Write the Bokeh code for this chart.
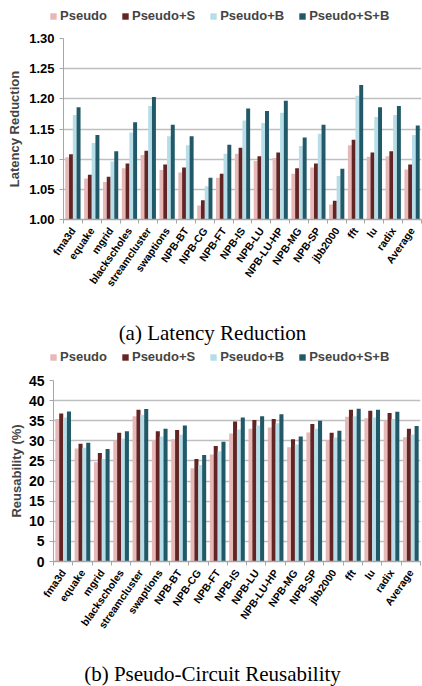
import math
from bokeh.plotting import figure
from bokeh.layouts import column, row
from bokeh.models import (ColumnDataSource, FixedTicker, Legend, LegendItem, Label,
                          Range1d, NumeralTickFormatter)
from bokeh.embed import file_html
from bokeh.resources import INLINE

benchmarks = ["fma3d", "equake", "mgrid", "blackscholes", "streamcluster", "swaptions",
              "NPB-BT", "NPB-CG", "NPB-FT", "NPB-IS", "NPB-LU", "NPB-LU-HP", "NPB-MG",
              "NPB-SP", "jbb2000", "fft", "lu", "radix", "Average"]
series = ["Pseudo", "Pseudo+S", "Pseudo+B", "Pseudo+S+B"]
colors = ["#E6B9B8", "#632523", "#B7DEE8", "#215968"]

# (a) Latency Reduction
lat_pseudo = [1.103, 1.068, 1.062, 1.085, 1.107, 1.082, 1.078, 1.023, 1.069, 1.109,
              1.097, 1.102, 1.076, 1.086, 1.025, 1.123, 1.104, 1.105, 1.083]
lat_s      = [1.108, 1.074, 1.071, 1.093, 1.114, 1.091, 1.086, 1.032, 1.076, 1.119,
              1.105, 1.111, 1.085, 1.093, 1.031, 1.132, 1.111, 1.113, 1.091]
lat_b      = [1.173, 1.127, 1.096, 1.144, 1.188, 1.138, 1.123, 1.055, 1.109, 1.164,
              1.160, 1.177, 1.122, 1.142, 1.072, 1.205, 1.170, 1.173, 1.140]
lat_sb     = [1.186, 1.140, 1.113, 1.161, 1.203, 1.157, 1.138, 1.069, 1.124, 1.184,
              1.180, 1.197, 1.136, 1.157, 1.084, 1.223, 1.186, 1.188, 1.156]

# (b) Pseudo-Circuit Reusability (%)
reu_pseudo = [35.4, 28.1, 24.7, 30.1, 36.1, 30.2, 30.4, 23.2, 26.6, 31.8,
              33.0, 33.3, 28.4, 32.1, 30.2, 36.0, 35.6, 35.0, 30.9]
reu_s      = [36.8, 29.3, 27.0, 32.0, 37.7, 32.4, 32.7, 25.5, 28.7, 34.8,
              35.2, 35.4, 30.4, 34.2, 32.0, 37.7, 37.5, 36.9, 33.0]
reu_b      = [35.8, 28.3, 25.5, 30.5, 36.5, 31.1, 31.5, 24.0, 27.4, 32.8,
              33.8, 34.4, 29.1, 33.0, 30.8, 36.1, 35.8, 35.4, 31.6]
reu_sb     = [37.3, 29.5, 28.0, 32.4, 37.9, 33.0, 33.8, 26.5, 29.8, 35.8,
              36.1, 36.6, 31.1, 35.0, 32.5, 38.0, 37.7, 37.2, 33.7]

lat_ticks = [1.00, 1.05, 1.10, 1.15, 1.20, 1.25, 1.30]
reu_ticks = [0, 5, 10, 15, 20, 25, 30, 35, 40, 45]
captions = ["(a) Latency Reduction", "(b) Pseudo-Circuit Reusability"]

offsets = [-0.3, -0.1, 0.1, 0.3]
GRID = "#BFBFBF"
AXIS = "#A6A6A6"
SANS = "Liberation Sans"
SERIF = "Liberation Serif"
W = 422


def make_band(height, caption=None, cap_y=0, legend_y=None, leg_x=49):
    """A strip without axes that carries a caption and/or a legend."""
    p = figure(width=W, height=height, output_backend="svg", toolbar_location=None,
               x_range=Range1d(0, 1), y_range=Range1d(0, 1),
               x_axis_location=None, y_axis_location=None,
               min_border_left=0, min_border_right=0, min_border_top=0,
               min_border_bottom=0)
    p.outline_line_color = None
    p.xgrid.grid_line_color = None
    p.ygrid.grid_line_color = None
    if caption is not None:
        p.add_layout(Label(x=212, y=cap_y, x_units="screen", y_units="screen",
                           text=caption, text_align="center", text_baseline="middle",
                           text_font=SERIF, text_font_size="21px", text_color="black"))
    if legend_y is not None:
        items = []
        for name, c in zip(series, colors):
            r = p.vbar(x=[5.0], top=[0.0], width=0.1, fill_color=c, line_color=None)
            items.append(LegendItem(label=name, renderers=[r]))
        legend = Legend(items=items, orientation="horizontal",
                        location=(leg_x, legend_y),
                        glyph_width=8, glyph_height=8, label_standoff=3, spacing=14,
                        label_text_font=SANS, label_text_font_size="13px",
                        label_text_font_style="bold", label_height=14,
                        border_line_color=None, background_fill_alpha=0,
                        padding=0, margin=0)
        p.add_layout(legend, "center")
    return p


def make_chart(values, ylabel, y0, y1, ticks, fmt, fwidth, top, left, bottom,
               tick_size, label_standoff):
    n = len(benchmarks)
    p = figure(frame_width=fwidth, frame_height=181, output_backend="svg",
               toolbar_location=None,
               x_range=Range1d(-0.5, n - 0.5), y_range=Range1d(y0, y1),
               min_border_left=left, min_border_right=1, min_border_top=top,
               min_border_bottom=bottom)
    p.outline_line_color = None
    p.background_fill_color = "white"
    for k, vals in enumerate(values):
        src = ColumnDataSource(dict(x=[i + offsets[k] for i in range(n)], top=vals))
        p.vbar(x="x", top="top", bottom=y0, width=0.21, source=src,
               fill_color=colors[k], line_color=None)

    p.xgrid.grid_line_color = None
    p.ygrid.grid_line_color = GRID
    p.ygrid.grid_line_width = 1.5
    p.ygrid.ticker = FixedTicker(ticks=ticks)

    ya = p.yaxis[0]
    ya.ticker = FixedTicker(ticks=ticks)
    ya.formatter = NumeralTickFormatter(format=fmt)
    ya.axis_label = ylabel
    ya.axis_label_text_font = SANS
    ya.axis_label_text_font_size = "13px"
    ya.axis_label_text_font_style = "bold"
    ya.axis_label_standoff = label_standoff
    ya.major_label_text_font = SANS
    ya.major_label_text_font_size = tick_size
    ya.major_label_text_font_style = "bold"
    ya.major_label_text_color = "black"
    ya.major_label_standoff = 5
    ya.axis_line_color = AXIS
    ya.major_tick_line_color = AXIS
    ya.major_tick_out = 4
    ya.major_tick_in = 0
    ya.minor_tick_line_color = None

    xa = p.xaxis[0]
    xa.ticker = FixedTicker(ticks=list(range(n)),
                            minor_ticks=[i - 0.5 for i in range(n + 1)])
    xa.major_label_overrides = {i: b for i, b in enumerate(benchmarks)}
    xa.major_label_orientation = math.radians(55)
    xa.major_label_text_font = SANS
    xa.major_label_text_font_size = "10.5px"
    xa.major_label_text_font_style = "bold"
    xa.major_label_text_color = "black"
    xa.major_tick_line_color = None
    xa.major_tick_out = 0
    xa.major_tick_in = 0
    xa.major_label_standoff = 5
    xa.minor_tick_line_color = AXIS
    xa.minor_tick_out = 4
    xa.minor_tick_in = 0
    xa.axis_line_color = AXIS
    xa.axis_line_width = 1.5
    return p


head1 = make_band(30, legend_y=7)
p1 = make_chart([lat_pseudo, lat_s, lat_b, lat_sb], "Latency Reduction",
                1.0, 1.30, lat_ticks, "0.00", 358, 8, 63, 90, "13px", 4)
head2 = make_band(58, caption=captions[0], cap_y=35, legend_y=3)
p2 = make_chart([reu_pseudo, reu_s, reu_b, reu_sb], "Reusability (%)",
                0, 45, reu_ticks, "0", 367, 13, 53, 90, "14px", 2)
foot = make_band(35, caption=captions[1], cap_y=13)

# two independent roots so that the two charts keep their own left borders
top_part = column(row(head1), row(p1), row(head2), spacing=0)
bottom_part = column(row(p2), row(foot), spacing=0)
open("out.html", "w").write(file_html([top_part, bottom_part], INLINE))
